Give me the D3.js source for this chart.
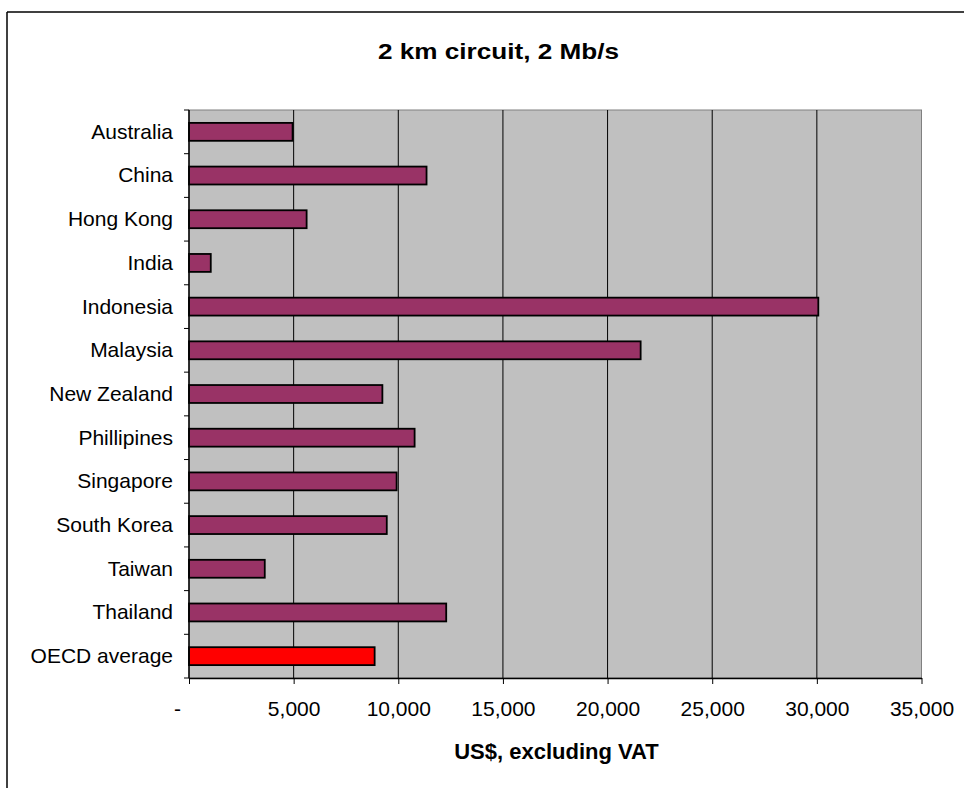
<!DOCTYPE html>
<html>
<head>
<meta charset="utf-8">
<script src="https://cdn.jsdelivr.net/npm/d3@7"></script>
<style>
  html, body { margin: 0; padding: 0; background: #fff; }
  svg { display: block; font-family: "Liberation Sans", Arial, sans-serif; }
</style>
</head>
<body>
<svg id="chart" width="969" height="788"></svg>
<script>
// Monthly price of a 2 km, 2 Mb/s leased circuit (US$, excluding VAT)
const countries = ["Australia", "China", "Hong Kong", "India", "Indonesia", "Malaysia",
  "New Zealand", "Phillipines", "Singapore", "South Korea", "Taiwan", "Thailand", "OECD average"];
const prices = [4950, 11350, 5620, 1040, 30070, 21580, 9240, 10780, 9920, 9450, 3620, 12290, 8870];
const xTicks = [0, 5000, 10000, 15000, 20000, 25000, 30000, 35000];
const highlight = "OECD average";

const titleText = "2 km circuit, 2 Mb/s";
const xTitle = "US$, excluding VAT";

const svg = d3.select("#chart");
const plot = { left: 189, right: 921.5, top: 110, bottom: 678 };

// outer chart frame
svg.append("line").attr("x1", 7).attr("y1", 12).attr("x2", 964).attr("y2", 12)
  .attr("stroke", "#000").attr("stroke-width", 1.5);
svg.append("line").attr("x1", 7).attr("y1", 12).attr("x2", 7).attr("y2", 788)
  .attr("stroke", "#000").attr("stroke-width", 1.5);

const x = d3.scaleLinear().domain([0, 35000]).range([plot.left, plot.right]);
const y = d3.scaleBand().domain(countries).range([plot.top, plot.bottom])
  .paddingInner(0.59).paddingOuter(0.295);

// plot background
svg.append("rect")
  .attr("x", plot.left).attr("y", plot.top)
  .attr("width", plot.right - plot.left).attr("height", plot.bottom - plot.top)
  .attr("fill", "#c0c0c0").attr("stroke", "#808080").attr("stroke-width", 1);

// vertical gridlines
svg.append("g").selectAll("line").data(xTicks.filter(d => d > 0 && d < 35000)).join("line")
  .attr("x1", d => x(d)).attr("x2", d => x(d))
  .attr("y1", plot.top).attr("y2", plot.bottom)
  .attr("stroke", "#000").attr("stroke-width", 1);

// bars
svg.append("g").selectAll("rect").data(countries).join("rect")
  .attr("x", x(0))
  .attr("y", d => y(d))
  .attr("width", (d, i) => x(prices[i]) - x(0))
  .attr("height", y.bandwidth())
  .attr("fill", d => d === highlight ? "#ff0000" : "#993366")
  .attr("stroke", "#000").attr("stroke-width", 1.8);

// x axis
const xAxis = svg.append("g")
  .attr("transform", `translate(0,${plot.bottom})`)
  .call(d3.axisBottom(x).tickValues(xTicks).tickSize(6).tickSizeOuter(0)
    .tickFormat(d => d === 0 ? "-" : d3.format(",")(d)));
xAxis.select(".domain").attr("stroke", "#000").attr("stroke-width", 1.5);
xAxis.selectAll(".tick line").attr("stroke", "#000");
xAxis.selectAll(".tick text")
  .attr("font-size", 21).attr("fill", "#000").attr("y", 0).attr("dy", 0)
  .attr("transform", "translate(0,38)")
  .attr("dx", d => d === 0 ? -12 : 0);

// y axis: ticks at band boundaries
const yAxis = svg.append("g").attr("transform", `translate(${plot.left},0)`);
const step = y.step();
const bounds = d3.range(countries.length + 1).map(i => plot.top + i * step);
yAxis.append("line").attr("x1", 0).attr("x2", 0).attr("y1", plot.top).attr("y2", plot.bottom)
  .attr("stroke", "#000").attr("stroke-width", 1.5);
yAxis.selectAll("line.tk").data(bounds).join("line").attr("class", "tk")
  .attr("x1", -5).attr("x2", 0).attr("y1", d => d).attr("y2", d => d)
  .attr("stroke", "#000");
yAxis.selectAll("text").data(countries).join("text")
  .attr("x", -16)
  .attr("y", d => y(d) + y.bandwidth() / 2)
  .attr("dy", "0.33em")
  .attr("text-anchor", "end")
  .attr("font-size", 21).attr("fill", "#000")
  .text(d => d);

// titles
svg.append("text").attr("x", 378).attr("y", 59)
  .attr("font-size", 22.5).attr("font-weight", "bold")
  .attr("textLength", 241).attr("lengthAdjust", "spacingAndGlyphs")
  .text(titleText);
svg.append("text").attr("x", 556.5).attr("y", 759).attr("text-anchor", "middle")
  .attr("font-size", 22).attr("font-weight", "bold")
  .text(xTitle);
</script>
</body>
</html>
